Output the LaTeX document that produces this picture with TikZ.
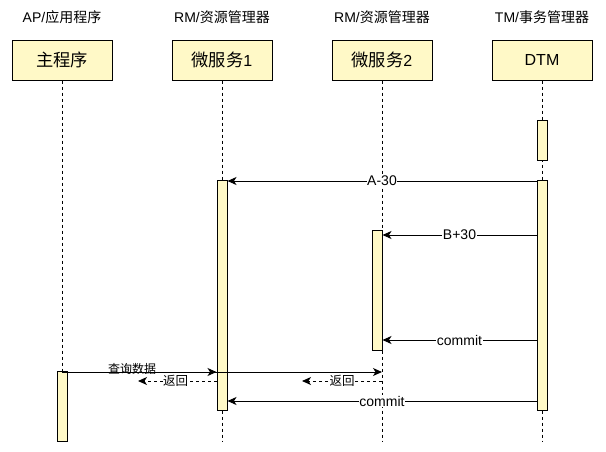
\documentclass[tikz,border=0pt]{standalone}
\usepackage{fontspec}
\setmainfont{Liberation Sans}
\newfontfamily\cjk{Noto Sans CJK SC}
\newfontfamily\cjkb[Scale=1.08]{Noto Sans CJK SC}
\usetikzlibrary{arrows.meta}
\definecolor{boxfill}{RGB}{255,249,199}
\tikzset{
  head/.style={draw=black, fill=boxfill, line width=1pt, minimum width=100pt, minimum height=40pt, inner sep=0pt, font=\fontsize{16}{18}\selectfont},
  role/.style={font=\fontsize{14}{16}\selectfont, inner sep=0pt},
  act/.style={draw=black, fill=boxfill, line width=1pt, minimum width=10pt, inner sep=0pt},
  life/.style={dashed, dash pattern=on 3pt off 3pt, line width=0.8pt},
  msg/.style={-{Stealth[length=9pt,width=8pt,inset=2.5pt]}, line width=1pt},
  ret/.style={-{Stealth[length=9pt,width=8pt,inset=2.5pt]}, dashed, dash pattern=on 3pt off 3pt, line width=1pt},
  lbl/.style={font=\fontsize{14}{16}\selectfont, fill=white, inner sep=0.5pt},
  clbl/.style={font=\cjk\fontsize{12.5}{14}\selectfont, fill=white, inner sep=0.5pt},
  clbln/.style={font=\cjk\fontsize{12}{14}\selectfont, inner sep=0.5pt}
}
\begin{document}
\begin{tikzpicture}[x=1pt,y=-1pt]
\useasboundingbox (0,0) rectangle (606,451);
% roles
\node[role] (r1) at (62,17) {AP/{\cjk 应用程序}};
\node[role] (r2) at (222,17) {RM/{\cjk 资源管理器}};
\node[role] (r3) at (382,17) {RM/{\cjk 资源管理器}};
\node[role] (r4) at (542,17) {TM/{\cjk 事务管理器}};
% heads
\node[head] (h1) at (62,60) {\cjkb 主程序};
\node[head] (h2) at (222,60) {{\cjkb 微服务}1};
\node[head] (h3) at (382,60) {{\cjkb 微服务}2};
\node[head] (h4) at (542,60) {DTM};
% lifeline ends
\coordinate (e1) at (62,441);
\coordinate (e2) at (222,441);
\coordinate (e3) at (382,441);
\coordinate (e4) at (542,441);
\draw[life] (h1.south) -- (e1);
\draw[life] (h2.south) -- (e2);
\draw[life] (h3.south) -- (e3);
\draw[life] (h4.south) -- (e4);
% activations
\node[act, minimum height=40pt] (d0) at (542,140) {};
\node[act, minimum height=230pt] (d1) at (542,295) {};
\node[act, minimum height=230pt] (m1) at (222,295) {};
\node[act, minimum height=120pt] (m2) at (377,290) {};
\node[act, minimum height=70pt] (p1) at (62,406) {};
% messages
\draw[msg] (d1.west |- 0,181) -- node[lbl, pos=0.5] {A-30} (m1.east |- 0,181);
\draw[msg] (d1.west |- 0,235) -- node[lbl, pos=0.5] {B+30} (m2.east |- 0,235);
\draw[msg] (d1.west |- 0,340) -- node[lbl, pos=0.5] {commit} (m2.east |- 0,340);
\draw[msg] (h1.south |- 0,372) -- (m1.west |- 0,372);
\draw[msg] (h1.south |- 0,372) -- (h3.south |- 0,372);
\node[clbln] (q) at (132,369) {查询数据};
\coordinate (r1e) at (138,381);
\coordinate (r2e) at (302,381);
\draw[ret] (m1.west |- 0,381) -- node[clbl, pos=0.52] {返回} (r1e);
\draw[ret] (h3.south |- 0,381) -- node[clbl, pos=0.5] {返回} (r2e);
\draw[msg] (d1.west |- 0,401) -- node[lbl, pos=0.5] {commit} (m1.east |- 0,401);
\end{tikzpicture}
\end{document}
